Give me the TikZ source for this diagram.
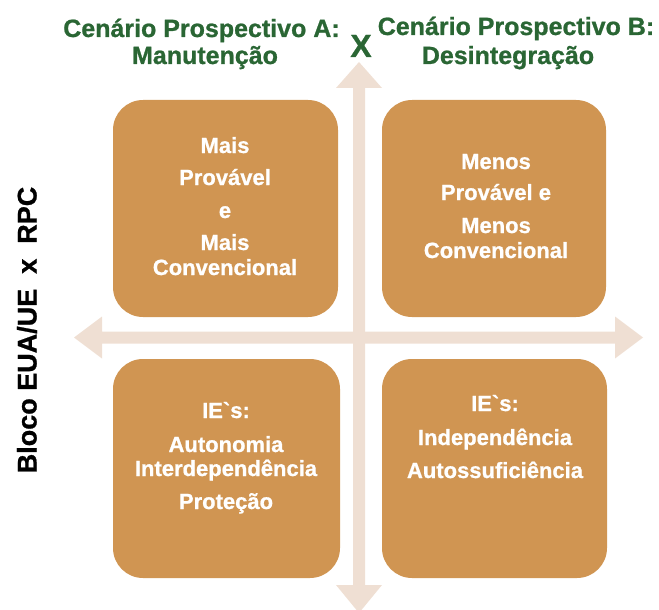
\documentclass[tikz,border=0pt]{standalone}
\usepackage{fontspec}
\setmainfont{Liberation Sans}[Ligatures=TeXOff, BoldFeatures={FakeBold=0.9}]
\definecolor{boxfill}{HTML}{D09552}
\definecolor{axiscol}{HTML}{EFDFD3}
\definecolor{titlegreen}{HTML}{2A6634}
\tikzset{
  quadbox/.style={fill=boxfill, draw=none, rounded corners=30pt},
  axisshape/.style={fill=axiscol, draw=none},
  boxline/.style={text=white, inner sep=0pt, anchor=base, font=\fontsize{22}{26}\selectfont\bfseries},
  titleline/.style={text=titlegreen, inner sep=0pt, anchor=base, font=\fontsize{25}{28}\selectfont\bfseries},
}
\begin{document}
\begin{tikzpicture}[x=1pt,y=-1pt]
\useasboundingbox (0,0) rectangle (659,610);
% axes
\fill[axisshape] (74,337.5) -- (102,316.5) -- (102,331.5) -- (615,331.5) -- (615,316.5) -- (643,337.5)
  -- (615,358.5) -- (615,343.5) -- (102,343.5) -- (102,358.5) -- cycle;
\fill[axisshape] (359,62) -- (382,88) -- (365,88) -- (365,585) -- (382,585) -- (359,613)
  -- (336,585) -- (353,585) -- (353,88) -- (336,88) -- cycle;
% boxes
\fill[quadbox] (113,100) rectangle (338,317);
\fill[quadbox] (382,100) rectangle (606,317);
\fill[quadbox] (113,359) rectangle (340,578);
\fill[quadbox] (382,359) rectangle (607,578);
% box texts
\node[boxline] (tl1) at (225,153) {Mais};
\node[boxline] (tl2) at (225,185) {Provável};
\node[boxline] (tl3) at (225,218) {e};
\node[boxline] (tl4) at (225,250) {Mais};
\node[boxline] (tl5) at (225,275) {Convencional};
\node[boxline] (tr1) at (496,169) {Menos};
\node[boxline] (tr2) at (496,200) {Provável e};
\node[boxline] (tr3) at (496,233) {Menos};
\node[boxline] (tr4) at (496,258) {Convencional};
\node[boxline] (bl1) at (226,418) {IE`s:};
\node[boxline] (bl2) at (226,452) {Autonomia};
\node[boxline] (bl3) at (226,476) {Interdependência};
\node[boxline] (bl4) at (226,509) {Proteção};
\node[boxline] (br1) at (495,411) {IE`s:};
\node[boxline] (br2) at (495,445) {Independência};
\node[boxline] (br3) at (495,478) {Autossuficiência};
% titles
\node[titleline] (ta1) at (201.5,37) {Cenário Prospectivo A:};
\node[titleline] (ta2) at (205,64) {Manutenção};
\node[titleline] (tb1) at (516,35) {Cenário Prospectivo B:};
\node[titleline] (tb2) at (508,64) {Desintegração};
\node[text=titlegreen, inner sep=0pt, anchor=base, font=\fontsize{32}{36}\selectfont\bfseries] (vs) at (361,57) {X};
% vertical label
\node[rotate=90, inner sep=0pt, font=\fontsize{27}{30}\selectfont\bfseries] (side) at (27,330) {Bloco EUA/UE\ \ x\ \ RPC};
\end{tikzpicture}
\end{document}
